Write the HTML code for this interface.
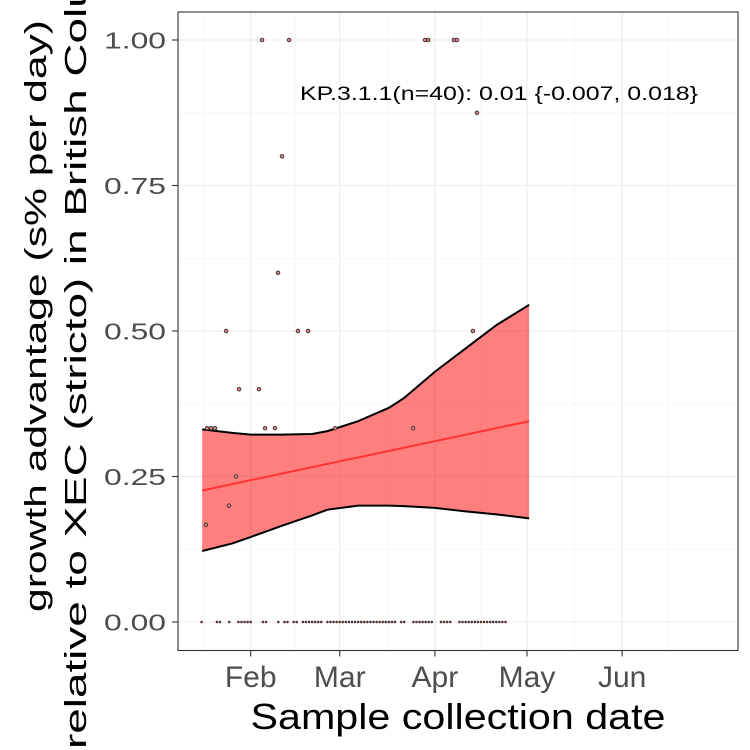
<!DOCTYPE html>
<html><head><meta charset="utf-8"><style>
html,body{margin:0;padding:0;background:#fff;}
svg{display:block;font-family:"Liberation Sans",sans-serif;}
</style></head><body>
<svg id="chart" width="750" height="750" viewBox="0 0 750 750">
<g id="grid"></g>
<g id="ribbon"></g>
<g id="points"></g>
<rect x="178" y="12" width="560" height="638.5" fill="none" stroke="#333" stroke-width="1.1"/>
<g id="axes"></g>
<text x="499" y="100" font-size="19" text-anchor="middle" textLength="398" lengthAdjust="spacingAndGlyphs" fill="#000">KP.3.1.1(n=40): 0.01 {-0.007, 0.018}</text>
<text x="458" y="729" font-size="36" text-anchor="middle" textLength="415" lengthAdjust="spacingAndGlyphs" fill="#000">Sample collection date</text>
<text transform="translate(46,316) rotate(-90)" font-size="31" text-anchor="middle" textLength="592" lengthAdjust="spacingAndGlyphs" fill="#000">growth advantage (s% per day)</text>
<text transform="translate(86,316) rotate(-90)" font-size="31" text-anchor="middle" textLength="866" lengthAdjust="spacingAndGlyphs" fill="#000">relative to XEC (stricto) in British Columbia</text>
</svg>
<script>
// days relative to Feb 1
const xTickLabels = ["Feb","Mar","Apr","May","Jun"];
const xTickDays = [0,29,60,90,121];
const yTickValues = [0,0.25,0.5,0.75,1];
const yTickLabels = ["0.00","0.25","0.50","0.75","1.00"];
const zeroDays = [-16,-11,-10,-7,-4,-3,-2,-1,0,4,5,9,11,12,14,15,17,18,19,20,21,22,23,25,26,27,28,29,30,31,32,33,34,35,36,37,38,39,40,41,42,43,44,45,46,47,49,50,53,54,55,56,57,58,59,62,63,64,65,68,69,70,71,72,73,74,75,76,77,78,79,80,81,82,83];
const pointDays = [-14.2,-12.9,-11.6,4.7,7.9,27.5,52.9,-8,15.4,18.7,72.4,-3.8,2.7,8.9,10.2,3.7,12.5,56.8,57.8,66.2,67.2,73.7,-4.8,-7.1,-14.6];
const pointValues = [0.333,0.333,0.333,0.333,0.333,0.333,0.333,0.5,0.5,0.5,0.5,0.4,0.4,0.6,0.8,1,1,1,1,1,1,0.875,0.25,0.2,0.167];
const ribbonDays = [-15.8,-6,0,10,20,25,35,45,50,60,70,80,90.7];
const ribbonUpper = [0.331,0.325,0.322,0.322,0.323,0.328,0.345,0.368,0.385,0.43,0.47,0.51,0.545];
const ribbonLower = [0.122,0.135,0.146,0.165,0.183,0.193,0.2,0.2,0.199,0.196,0.19,0.185,0.178];
const fitDays = [-15.8,90.7];
const fitValues = [0.226,0.345];

const NS="http://www.w3.org/2000/svg";
const xs = d => 250.7 + d*3.07;
const ys = v => 622 - v*582;
function mk(tag, attrs, parent){const e=document.createElementNS(NS,tag);for(const k in attrs)e.setAttribute(k,attrs[k]);parent.appendChild(e);return e;}
const grid=document.getElementById('grid'), axes=document.getElementById('axes');
const rib=document.getElementById('ribbon'), pts=document.getElementById('points');
mk('rect',{x:178,y:12,width:560,height:638.5,fill:'#fff'},grid);
for(let i=0;i<yTickValues.length-1;i++){
  const y=ys((yTickValues[i]+yTickValues[i+1])/2);
  const l=mk('line',{x1:178,x2:738,y1:y,y2:y,stroke:'#f2f2f2','stroke-width':0.6},grid);
  
  
}
const allMonth=[-31].concat(xTickDays,[151]);
for(let i=0;i<allMonth.length-1;i++){
  const x=xs((allMonth[i]+allMonth[i+1])/2);
  if(x<178||x>738) continue;
  const l=mk('line',{x1:x,x2:x,y1:12,y2:650.5,stroke:'#f2f2f2','stroke-width':0.6},grid);
  
  
}
yTickValues.forEach((v,i)=>{
  const y=ys(v);
  const l=mk('line',{x1:178,x2:738,y1:y,y2:y,stroke:'#ebebeb','stroke-width':1.1},grid);
  
  
  const t=mk('line',{x1:172,x2:178,y1:y,y2:y,stroke:'#333','stroke-width':1.1},axes);
  
  
  const tx=mk('text',{x:166,y:y+8.5,'font-size':23,'text-anchor':'end',fill:'#4d4d4d',textLength:62,lengthAdjust:'spacingAndGlyphs'},axes);
  tx.textContent=yTickLabels[i];
  
  
});
xTickDays.forEach((d,i)=>{
  const x=xs(d);
  const l=mk('line',{x1:x,x2:x,y1:12,y2:650.5,stroke:'#ebebeb','stroke-width':1.1},grid);
  
  
  const t=mk('line',{x1:x,x2:x,y1:650.5,y2:656.5,stroke:'#333','stroke-width':1.1},axes);
  
  
  const tx=mk('text',{x:x,y:687,'font-size':30,'text-anchor':'middle',fill:'#4d4d4d'},axes);
  tx.textContent=xTickLabels[i];
  
  
});
let up=ribbonDays.map((d,i)=>xs(d)+','+ys(ribbonUpper[i]));
let lo=ribbonDays.map((d,i)=>xs(d)+','+ys(ribbonLower[i])).reverse();
const poly=mk('polygon',{points:up.concat(lo).join(' '),fill:'#ff0000','fill-opacity':0.5},rib);


const ul=mk('polyline',{points:up.join(' '),fill:'none',stroke:'#000','stroke-width':2},rib);


const ll=mk('polyline',{points:lo.join(' '),fill:'none',stroke:'#000','stroke-width':2},rib);


const fl=mk('polyline',{points:fitDays.map((d,i)=>xs(d)+','+ys(fitValues[i])).join(' '),fill:'none',stroke:'#ff3333','stroke-width':2},rib);


zeroDays.forEach(d=>{
  const c=mk('circle',{cx:xs(d),cy:ys(0),r:1.1,fill:'#7a2a2a',stroke:'#333','stroke-width':0.5},pts);
  
  
});
pointDays.forEach((d,i)=>{
  const c=mk('circle',{cx:xs(d),cy:ys(pointValues[i]),r:1.8,fill:'#e08080',stroke:'#333','stroke-width':0.9},pts);
  
  
});
</script>
</body></html>
